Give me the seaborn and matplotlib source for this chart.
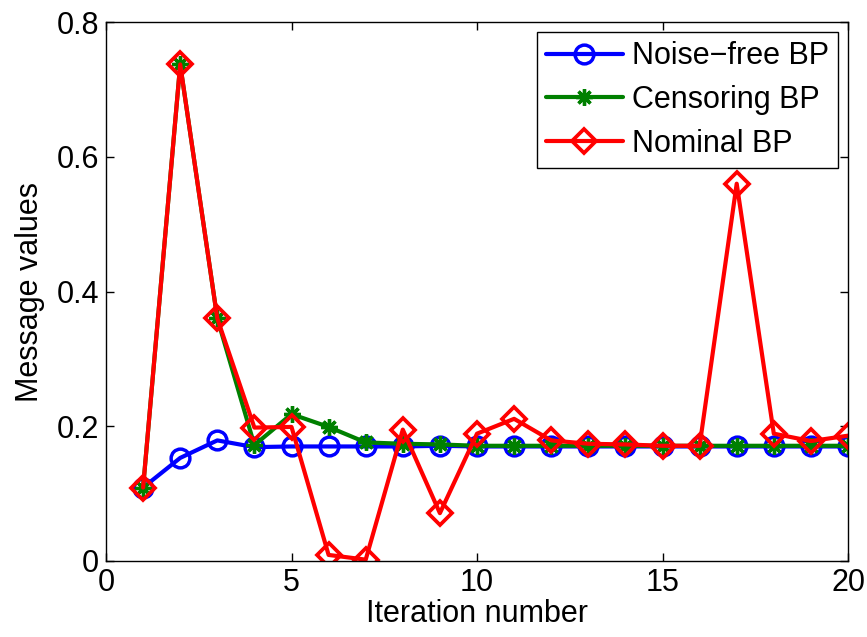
import matplotlib
matplotlib.use("Agg")
import matplotlib.pyplot as plt
import seaborn as sns
import pandas as pd

iterations = list(range(1, 21))
noise_free = [0.109, 0.153, 0.179, 0.169, 0.170, 0.170, 0.170, 0.170, 0.171, 0.170,
              0.170, 0.170, 0.170, 0.170, 0.170, 0.170, 0.170, 0.170, 0.170, 0.170]
censoring = [0.109, 0.737, 0.360, 0.172, 0.218, 0.199, 0.176, 0.174, 0.173, 0.171,
             0.171, 0.171, 0.171, 0.171, 0.171, 0.171, 0.171, 0.171, 0.171, 0.171]
nominal = [0.109, 0.737, 0.360, 0.198, 0.199, 0.009, 0.002, 0.195, 0.071, 0.189,
           0.211, 0.179, 0.174, 0.173, 0.171, 0.171, 0.560, 0.189, 0.178, 0.186]
series_names = ["Noise\u2212free BP", "Censoring BP", "Nominal BP"]

sns.set_style("ticks")
plt.rcParams["font.family"] = ["Liberation Sans", "DejaVu Sans"]
plt.rcParams["text.color"] = "black"
plt.rcParams["axes.labelcolor"] = "black"
plt.rcParams["xtick.color"] = "black"
plt.rcParams["ytick.color"] = "black"

fig = plt.figure(figsize=(8.67, 6.37), dpi=100)
ax = fig.add_axes([106 / 867, 1 - 561 / 637, (848 - 106) / 867, (561 - 22) / 637])

styles = [
    (noise_free, "#0000ff", "o", 13.5, 2.5),
    (censoring, "#008000", (8, 2, 0), 12, 2.4),
    (nominal, "#ff0000", "D", 12, 2.7),
]
for name, (vals, col, mk, ms, mew) in zip(series_names, styles):
    df = pd.DataFrame({"iter": iterations, "val": vals})
    sns.lineplot(data=df, x="iter", y="val", ax=ax, color=col, linewidth=3.0,
                 marker=mk, markersize=ms, markerfacecolor="none",
                 markeredgecolor=col, markeredgewidth=mew, label=name)

ax.set_xlim(0, 20)
ax.set_ylim(0, 0.8)
ax.set_xticks([0, 5, 10, 15, 20])
ax.set_yticks([0, 0.2, 0.4, 0.6, 0.8])
ax.set_yticklabels(["0", "0.2", "0.4", "0.6", "0.8"])
ax.tick_params(direction="in", top=True, right=True, length=6, width=1,
               labelsize=22, pad=5)
for sp in ax.spines.values():
    sp.set_linewidth(1.0)
    sp.set_color("black")
ax.set_xlabel("Iteration number", fontsize=22, labelpad=1)
ax.set_ylabel("Message values", fontsize=22, labelpad=8)

leg = ax.legend(loc="upper right", fontsize=22, frameon=True, fancybox=False,
                edgecolor="black", framealpha=1, borderaxespad=0.33,
                handlelength=2.5, handletextpad=0.3, borderpad=0.3,
                labelspacing=0.45)
leg.get_frame().set_linewidth(1.0)

fig.savefig("out.png", dpi=100)
